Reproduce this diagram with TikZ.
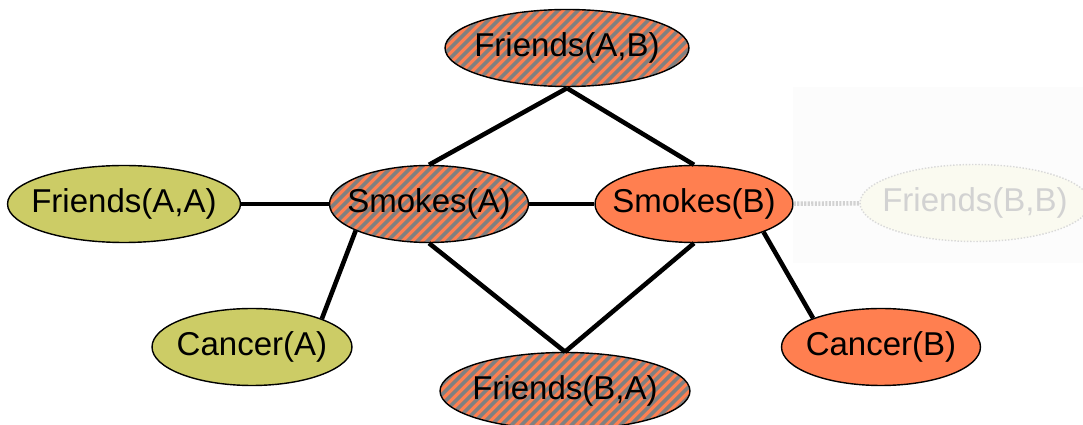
\documentclass[tikz,border=0pt]{standalone}
\usepackage{fontspec}
\setmainfont{Liberation Sans}
\usepackage{tikz}
\usetikzlibrary{shapes.geometric}
\usetikzlibrary{patterns.meta}

\definecolor{olivefill}{HTML}{CCCC66}
\definecolor{coralfill}{HTML}{FF7F50}
\definecolor{hatchgray}{HTML}{808080}

\tikzset{
  var/.style={ellipse, draw, line width=0.8pt, inner xsep=-0.4cm, inner ysep=0pt,
    minimum height=1.54cm, font=\fontsize{18.8}{22}\selectfont},
  olivevar/.style={var, fill=olivefill},
  coralvar/.style={var, fill=coralfill},
  hatchvar/.style={var, preaction={fill=hatchgray},
    pattern={Lines[angle=45,distance=4pt,line width=1.9pt]}, pattern color=coralfill},
  fadedvar/.style={var, draw=gray!30, densely dotted, fill=olivefill!10, text=gray!35},
  link/.style={line width=2.6pt},
}

\begin{document}
\begin{tikzpicture}[x=0.02cm, y=-0.02cm]
\useasboundingbox (0,0) rectangle (1083,425);
% faint backdrop behind Friends(B,B)
\fill[black!1] (793,87) rectangle (1083,263);

\node[hatchvar, minimum width=4.88cm] (FAB) at (567,48) {Friends(A,B)};
\node[olivevar, minimum width=4.66cm] (FAA) at (124,204) {Friends(A,A)};
\node[hatchvar, minimum width=3.98cm] (SA) at (429,204) {Smokes(A)};
\node[coralvar, minimum width=3.96cm] (SB) at (694,204) {Smokes(B)};
\node[fadedvar, minimum width=4.6cm] (FBB) at (975,203) {Friends(B,B)};
\node[olivevar, minimum width=4cm] (CA) at (252,347) {Cancer(A)};
\node[coralvar, minimum width=3.98cm] (CB) at (881,347) {Cancer(B)};
\node[hatchvar, minimum width=5cm] (FBA) at (565,391) {Friends(B,A)};

\draw[link] (FAB.south) -- (SA.north);
\draw[link] (FAB.south) -- (SB.north);
\draw[link] (FAA) -- (SA);
\draw[link] (SA) -- (SB);
\draw[link] (SA.200) -- (CA.22);
\draw[link] (SB.-22) -- (CB.157);
\draw[link] (FBA.north) -- (SA.south);
\draw[link] (FBA.north) -- (SB.south);
\draw[link, gray!35, dash pattern=on 1.2pt off 0.8pt] (SB) -- (FBB);
\end{tikzpicture}
\end{document}
